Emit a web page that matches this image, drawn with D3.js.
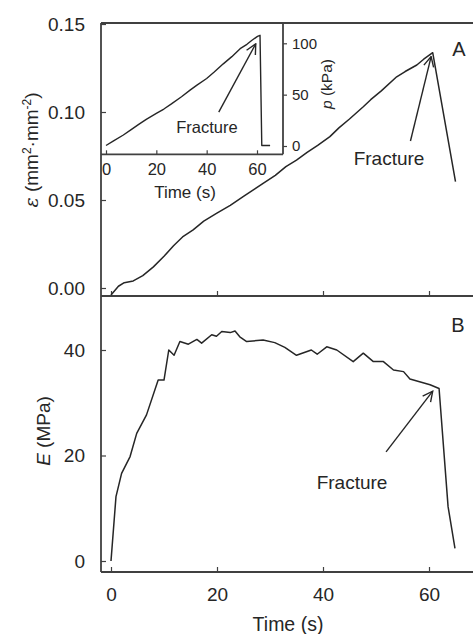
<!DOCTYPE html>
<html>
<head>
<meta charset="utf-8">
<script src="https://cdn.jsdelivr.net/npm/d3@7"></script>
<style>
html,body{margin:0;padding:0;background:#fff;}
svg{display:block;font-family:"Liberation Sans",Arial,sans-serif;}
</style>
</head>
<body>
<svg id="c" width="473" height="634"></svg>
<script>
// ---- data ----
const strainTime = [0,1.4,2.5,4.2,6,8,10,11.8,13.5,15.5,17.5,19.9,22.5,25,27,28.7,31,33,35,37,39,41.3,43,45,47.6,49,51,53.9,55.5,57.7,59,60.7,65];
const strainVals = [-0.004,0.001,0.003,0.004,0.007,0.012,0.018,0.024,0.029,0.033,0.038,0.0424,0.047,0.052,0.056,0.0595,0.064,0.069,0.0727,0.077,0.081,0.086,0.091,0.096,0.103,0.107,0.112,0.12,0.123,0.1267,0.13,0.1337,0.0604];

const pressTime = [0,3,6.9,10,13,16,20,23,26,30,33.4,36,40,43,46.6,50,53.3,56,58,60.2,61.2,61.9,65.2];
const pressVals = [0.5,5,10.7,16,21,26,31.7,36,41,48,54.4,59,65.7,72,80,87,94.8,99,103,106.8,107.8,0.5,0.5];

const modTime = [0,0.94,2,3.6,4.85,6.7,8.9,10,10.9,11.9,13,14.6,16.2,17.1,19,19.9,20.9,22.5,23.4,24.3,25.6,28.7,30.9,32.8,35,37.8,38.9,40.7,42.6,45.7,47.6,49.5,51.4,53.3,55.2,56.4,60.2,61.9,63.6,64.9];
const modVals = [0,12.2,16.6,19.8,24.2,27.7,34.3,34.3,40,39,41.6,41.1,42,41.3,42.9,42.6,43.5,43.3,43.6,42.5,41.6,41.9,41.4,40.5,39,40,39.2,40.6,40,37.8,39.4,37.8,37.8,36.2,35.9,34.5,33.4,32.7,10.3,2.4];

const timeTicks = [0,20,40,60];
const strainTicks = [0,0.05,0.10,0.15];
const modTicks = [0,20,40];
const pressTicks = [0,50,100];

// ---- scales ----
const x = d3.scaleLinear().domain([0,60]).range([111,429]);
const yA = d3.scaleLinear().domain([0,0.15]).range([288,24]);
const yB = d3.scaleLinear().domain([0,40]).range([561,350]);
const xi = d3.scaleLinear().domain([0,60]).range([106,257]);
const yi = d3.scaleLinear().domain([0,100]).range([146,43.3]);

const svg = d3.select("#c");
const ink = "#262626";
const frame = "#404040";
const L = 101, R = 473, T = 23, M = 296, B = 572;
const IR = 283, IB = 154.3;

const defs = svg.append("defs");
defs.append("marker").attr("id","ah").attr("viewBox","0 0 12 12")
  .attr("refX",11).attr("refY",6).attr("markerWidth",12).attr("markerHeight",12)
  .attr("markerUnits","userSpaceOnUse").attr("orient","auto")
  .append("path").attr("d","M1,1 L11,6 L1,11").attr("fill","none").attr("stroke",ink).attr("stroke-width",1.4);

// frame lines
const fr = svg.append("g").attr("stroke",frame).attr("stroke-width",1.8).attr("fill","none");
fr.append("line").attr("x1",L).attr("x2",R).attr("y1",T).attr("y2",T);
fr.append("line").attr("x1",L).attr("x2",L).attr("y1",T).attr("y2",B);
fr.append("line").attr("x1",L).attr("x2",R).attr("y1",M).attr("y2",M);
fr.append("line").attr("x1",L).attr("x2",R).attr("y1",B).attr("y2",B);
// inset frame
fr.append("line").attr("x1",IR).attr("x2",IR).attr("y1",T).attr("y2",IB);
fr.append("line").attr("x1",L).attr("x2",IR).attr("y1",IB).attr("y2",IB);

function styleAxis(g, fs){
  g.select(".domain").remove();
  g.selectAll(".tick line").attr("stroke",frame).attr("stroke-width",1.2);
  g.selectAll(".tick text").attr("fill",ink).attr("font-size",fs).attr("font-family","Liberation Sans, Arial, sans-serif");
}

// Panel A axes
svg.append("g").attr("transform",`translate(${L},0)`)
  .call(d3.axisLeft(yA).tickValues(strainTicks).tickFormat(d3.format(".2f")).tickSize(-5).tickPadding(16))
  .call(g=>styleAxis(g,19));
svg.append("g").attr("transform",`translate(0,${M})`)
  .call(d3.axisBottom(x).tickValues(timeTicks).tickSize(-5).tickFormat(""))
  .call(g=>styleAxis(g,19));

// Panel B axes
svg.append("g").attr("transform",`translate(${L},0)`)
  .call(d3.axisLeft(yB).tickValues(modTicks).tickSize(-5).tickPadding(16))
  .call(g=>styleAxis(g,19));
svg.append("g").attr("transform",`translate(0,${B})`)
  .call(d3.axisBottom(x).tickValues(timeTicks).tickSize(-5).tickPadding(16))
  .call(g=>styleAxis(g,19));

// Inset axes
svg.append("g").attr("transform",`translate(0,${IB})`)
  .call(d3.axisBottom(xi).tickValues(timeTicks).tickSize(-4).tickPadding(9))
  .call(g=>styleAxis(g,16.5));
svg.append("g").attr("transform",`translate(${IR},0)`)
  .call(d3.axisRight(yi).tickValues(pressTicks).tickSize(4).tickPadding(5))
  .call(g=>styleAxis(g,15));

// curves
const lineA = d3.line().x((d,i)=>x(strainTime[i])).y(d=>yA(d));
svg.append("path").attr("d",lineA(strainVals)).attr("fill","none").attr("stroke",ink).attr("stroke-width",1.5).attr("stroke-linejoin","round");
const lineB = d3.line().x((d,i)=>x(modTime[i])).y(d=>yB(d));
svg.append("path").attr("d",lineB(modVals)).attr("fill","none").attr("stroke",ink).attr("stroke-width",1.5).attr("stroke-linejoin","round");
const lineI = d3.line().x((d,i)=>xi(pressTime[i])).y(d=>yi(d));
svg.append("path").attr("d",lineI(pressVals)).attr("fill","none").attr("stroke",ink).attr("stroke-width",1.4).attr("stroke-linejoin","round");

// annotations
function arrow(x1,y1,x2,y2){
  svg.append("line").attr("x1",x1).attr("y1",y1).attr("x2",x2).attr("y2",y2)
    .attr("stroke",ink).attr("stroke-width",1.4).attr("marker-end","url(#ah)");
}
function txt(t,xx,yy,fs,anchor){
  return svg.append("text").attr("x",xx).attr("y",yy).attr("dy","0.35em").attr("font-size",fs)
    .attr("fill",ink).attr("text-anchor",anchor||"middle").text(t);
}
// A
arrow(x(56.5), yA(0.0835), x(60.4), yA(0.1315));
txt("Fracture", 389, 158, 19);
txt("A", 459, 49, 20);
// inset
arrow(xi(44.8), yi(33), xi(59.5), yi(99.5));
txt("Fracture", 207, 127, 16.5);
// B
arrow(x(51.9), yB(20.7), x(60.7), yB(32.2));
txt("Fracture", 352, 482, 19);
txt("B", 458, 325, 20);

// axis titles
txt("Time (s)", 288, 624, 19.5);
txt("Time (s)", 185, 192, 17);

// epsilon label
const eL = svg.append("text").attr("transform","translate(38,150) rotate(-90)")
  .attr("text-anchor","middle").attr("font-size",19).attr("fill",ink);
eL.append("tspan").attr("font-family","DejaVu Serif, serif").attr("font-style","italic").text("ε");
eL.append("tspan").text(" (mm");
eL.append("tspan").attr("dy",-7).attr("font-size",12).text("2");
eL.append("tspan").attr("dy",7).text("·mm");
eL.append("tspan").attr("dy",-7).attr("font-size",12).text("-2");
eL.append("tspan").attr("dy",7).text(")");

// E label
const EL = svg.append("text").attr("transform","translate(50,431) rotate(-90)")
  .attr("text-anchor","middle").attr("font-size",19).attr("fill",ink);
EL.append("tspan").attr("font-style","italic").text("E");
EL.append("tspan").text(" (MPa)");

// p label
const PL = svg.append("text").attr("transform","translate(332,84) rotate(-90)")
  .attr("text-anchor","middle").attr("font-size",15.5).attr("fill",ink);
PL.append("tspan").attr("font-style","italic").text("p");
PL.append("tspan").text(" (kPa)");
</script>
</body>
</html>
